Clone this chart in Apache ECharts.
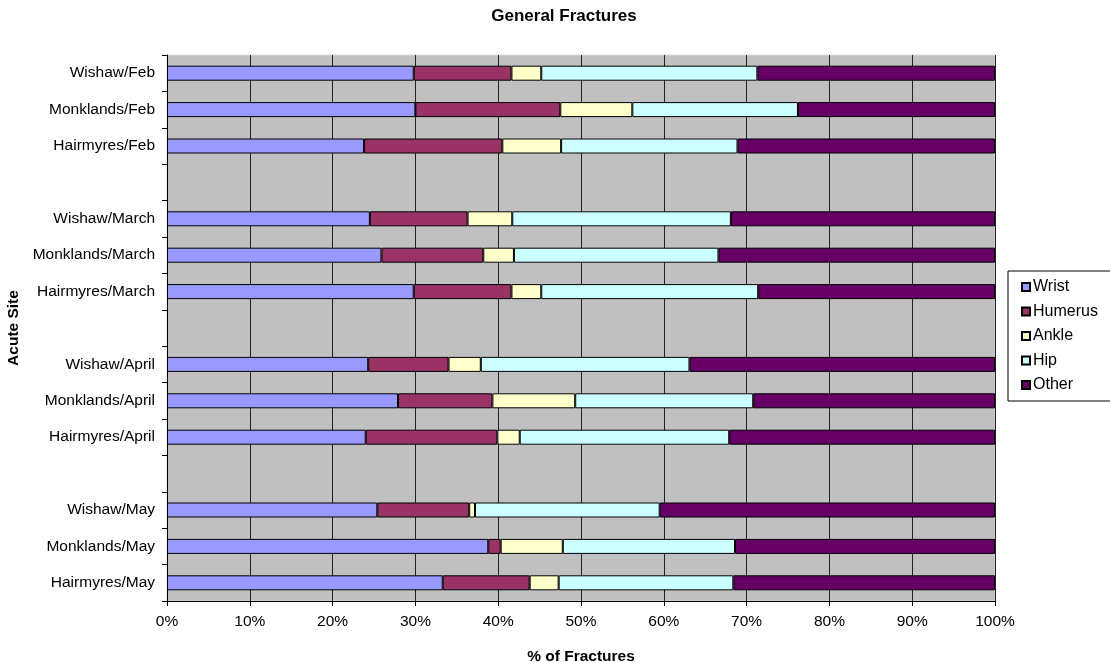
<!DOCTYPE html>
<html lang="en">
<head>
    <meta charset="UTF-8">
    <title>General Fractures</title>
    <script src="https://cdn.jsdelivr.net/npm/echarts@6.0.0/dist/echarts.min.js"></script>
    <style>
        body {
            margin: 0;
            background: #fff;
        }
    </style>
</head>
<body>
    <div id="chart" style="width: 1110px; height: 662px;"></div>
    <script type="text/javascript">
        // sites, top to bottom; blank rows separate the months
        const sites = [
            'Wishaw/Feb', 'Monklands/Feb', 'Hairmyres/Feb', '',
            'Wishaw/March', 'Monklands/March', 'Hairmyres/March', ' ',
            'Wishaw/April', 'Monklands/April', 'Hairmyres/April', '  ',
            'Wishaw/May', 'Monklands/May', 'Hairmyres/May'
        ];
        const wrist   = [29.8, 30.0, 23.8, null, 24.5, 25.9, 29.8, null, 24.3, 27.9, 24.0, null, 25.4, 38.8, 33.3];
        const humerus = [11.8, 17.5, 16.7, null, 11.8, 12.3, 11.8, null,  9.7, 11.4, 15.9, null, 11.1,  1.5, 10.5];
        const ankle   = [ 3.6,  8.7,  7.1, null,  5.4,  3.7,  3.6, null,  3.9, 10.0,  2.7, null,  0.7,  7.5,  3.5];
        const hip     = [26.1, 20.0, 21.3, null, 26.4, 24.7, 26.2, null, 25.2, 21.5, 25.3, null, 22.3, 20.8, 21.1];
        const other   = [28.7, 23.8, 31.1, null, 31.9, 33.4, 28.6, null, 36.9, 29.2, 32.1, null, 40.5, 31.4, 31.6];

        const font = 'Arial, "Liberation Sans", sans-serif';

        let chart = echarts.init(
            document.getElementById('chart'), null, { renderer: 'canvas' }
        );

        const bar = (name, data, color) => ({
            name: name,
            type: 'bar',
            stack: 'total',
            barWidth: 15,
            data: data,
            itemStyle: { color: color, borderColor: '#000', borderWidth: 1 }
        });

        chart.setOption({
            animation: false,
            title: {
                text: 'General Fractures',
                left: 559,
                textAlign: 'center',
                top: 3,
                textStyle: { fontFamily: font, fontSize: 17, fontWeight: 'bold', color: '#000' }
            },
            legend: {
                orient: 'vertical',
                left: 1008,
                top: 271,
                itemWidth: 8,
                itemHeight: 8,
                itemGap: 8.5,
                padding: [8, 24, 8, 13],
                backgroundColor: '#fff',
                borderColor: '#000',
                borderWidth: 1,
                borderRadius: 0,
                icon: 'rect',
                textStyle: { fontFamily: font, fontSize: 16, color: '#000', lineHeight: 16, padding: [0, 0, 0, -2] },
                data: ['Wrist', 'Humerus', 'Ankle', 'Hip', 'Other']
            },
            grid: {
                left: 167,
                right: 115,
                top: 55,
                bottom: 61,
                show: true,
                backgroundColor: '#C0C0C0',
                borderColor: '#d8d8d8',
                borderWidth: 1,
                containLabel: false,
                outerBoundsMode: 'none'
            },
            xAxis: {
                type: 'value',
                min: 0,
                max: 100,
                interval: 10,
                name: '% of Fractures',
                nameLocation: 'middle',
                nameGap: 48,
                nameTextStyle: { fontFamily: font, fontSize: 15.5, fontWeight: 'bold', color: '#000' },
                axisLine: { show: true, lineStyle: { color: '#000' } },
                axisTick: { show: true, length: 5, lineStyle: { color: '#000' } },
                axisLabel: { formatter: '{value}%', fontFamily: font, fontSize: 15.5, color: '#000', margin: 13 },
                splitLine: { show: true, lineStyle: { color: '#222', width: 1 } }
            },
            yAxis: {
                type: 'category',
                inverse: true,
                data: sites,
                name: 'Acute Site',
                nameLocation: 'middle',
                nameGap: 143,
                nameTextStyle: { fontFamily: font, fontSize: 15.5, fontWeight: 'bold', color: '#000' },
                axisLine: { show: true, lineStyle: { color: '#000' } },
                axisTick: { show: true, length: 5, lineStyle: { color: '#000' } },
                axisLabel: { fontFamily: font, fontSize: 15.5, color: '#000', margin: 12 },
                splitLine: { show: false }
            },
            series: [
                bar('Wrist', wrist, '#9999FF'),
                bar('Humerus', humerus, '#993366'),
                bar('Ankle', ankle, '#FFFFCC'),
                bar('Hip', hip, '#CCFFFF'),
                bar('Other', other, '#660066')
            ]
        });
    </script>
</body>
</html>
